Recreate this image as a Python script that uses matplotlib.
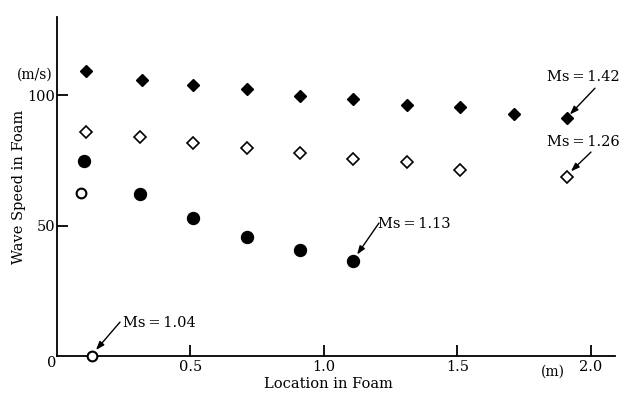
import matplotlib
matplotlib.use("Agg")
import matplotlib.pyplot as plt

plt.rcParams['font.family'] = ['DejaVu Serif']

# Data
loc_142 = [0.11, 0.32, 0.51, 0.71, 0.91, 1.11, 1.31, 1.51, 1.71, 1.91]
spd_142 = [109.3, 105.7, 103.8, 102.3, 99.8, 98.6, 96.2, 95.3, 92.7, 91.4]
loc_126 = [0.11, 0.31, 0.51, 0.71, 0.91, 1.11, 1.31, 1.51, 1.91]
spd_126 = [85.8, 83.8, 81.6, 79.7, 77.7, 75.4, 74.3, 71.3, 68.7]
loc_113 = [0.10, 0.31, 0.51, 0.71, 0.91, 1.11]
spd_113 = [74.8, 62.3, 52.8, 45.6, 40.5, 36.5]
loc_104 = [0.09, 0.13]
spd_104 = [62.6, 0.0]

labels = ["Ms\u2009=\u20091.42", "Ms\u2009=\u20091.26", "Ms\u2009=\u20091.13", "Ms\u2009=\u20091.04"]
xticks = [0.5, 1.0, 1.5, 2.0]
xticklabels = ["0.5", "1.0", "1.5", "2.0"]
yticks = [50, 100]
yticklabels = ["50", "100"]

fig = plt.figure(figsize=(6.21, 3.97), dpi=100)
ax = fig.add_axes([57/621, 41/397, (615-57)/621, (356-17)/397])
ax.set_xlim(0, 2.09)
ax.set_ylim(0, 130)

ax.plot(loc_142, spd_142, 'D', color='black', markersize=6.2, linestyle='none', clip_on=False)
ax.plot(loc_126, spd_126, 'D', markerfacecolor='white', markeredgecolor='black',
        markeredgewidth=1.2, markersize=6.0, linestyle='none', clip_on=False)
ax.plot(loc_113, spd_113, 'o', color='black', markersize=8.6, linestyle='none', clip_on=False)
ax.plot(loc_104, spd_104, 'o', markerfacecolor='white', markeredgecolor='black',
        markeredgewidth=1.5, markersize=7.0, linestyle='none', clip_on=False, zorder=5)

for s in ['top', 'right']:
    ax.spines[s].set_visible(False)
ax.spines['left'].set_linewidth(1.3)
ax.spines['bottom'].set_linewidth(1.3)

ax.set_xticks(xticks)
ax.set_xticklabels(xticklabels)
ax.set_yticks(yticks)
ax.set_yticklabels(yticklabels)
ax.tick_params(axis='both', direction='in', length=8, width=1.3, labelsize=10.5, pad=3)
ax.tick_params(axis='y', pad=1)

ax.text(-0.019, -2.7, "0", ha='center', va='center', fontsize=10.5, clip_on=False)
ax.text(-0.082, 108, "(m/s)", ha='center', va='center', fontsize=10, clip_on=False)
ax.text(1.858, -6.2, "(m)", ha='center', va='center', fontsize=10, clip_on=False)

ax.set_xlabel("Location in Foam", fontsize=10.5)
ax.xaxis.set_label_coords((328 - 57) / (615 - 57), -0.062)
ax.set_ylabel("Wave Speed in Foam", fontsize=10.5, labelpad=1)

arrow = dict(arrowstyle='-|>,head_length=0.5,head_width=0.18', color='black', lw=1.0,
             shrinkA=0, shrinkB=0)

ann = [
    (labels[0], (1.835, 106.9), (2.015, 102.7), (1.921, 92.6)),
    (labels[1], (1.835, 82.0), (2.000, 78.2), (1.925, 70.8)),
    (labels[2], (1.202, 50.6), (1.206, 51.0), (1.124, 38.9)),
    (labels[3], (0.247, 12.6), (0.236, 13.0), (0.146, 2.3)),
]
for txt, tpos, tail, tip in ann:
    ax.text(tpos[0], tpos[1], txt, ha='left', va='center', fontsize=10.5, clip_on=False)
    ax.annotate('', xy=tip, xytext=tail, arrowprops=arrow, annotation_clip=False)

fig.savefig("out.png", dpi=100)
